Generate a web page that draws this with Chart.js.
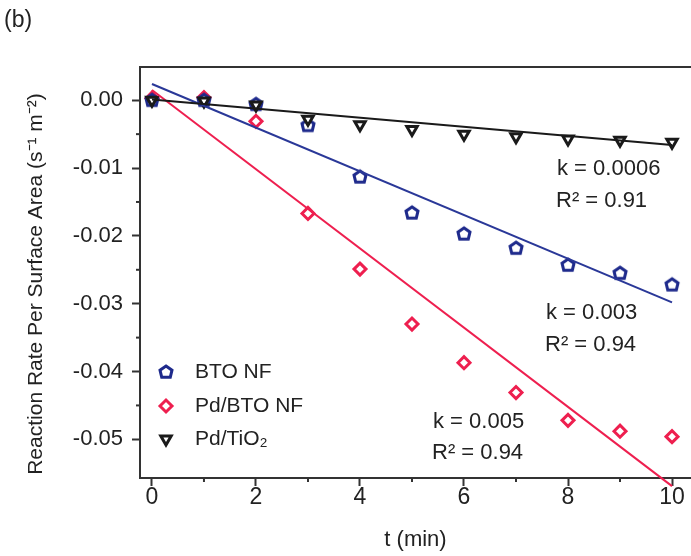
<!DOCTYPE html>
<html>
<head>
<meta charset="utf-8">
<script src="https://cdn.jsdelivr.net/npm/chart.js@4.4.0/dist/chart.umd.min.js"></script>
<style>
  html, body { margin: 0; padding: 0; background: #fff; }
  #wrap { width: 691px; height: 556px; position: relative; }
</style>
</head>
<body>
<div id="wrap"><canvas id="chart"></canvas></div>
<script>
const times = [0, 1, 2, 3, 4, 5, 6, 7, 8, 9, 10];
const btoNF   = [0.0000, 0.0000, -0.0006, -0.0037, -0.0113, -0.0166, -0.0197, -0.0218, -0.0243, -0.0255, -0.0272];
const pdBtoNF = [0.0003, 0.0004, -0.0031, -0.0167, -0.0249, -0.0330, -0.0387, -0.0431, -0.0472, -0.0488, -0.0496];
const pdTiO2  = [0.0000, -0.0001, -0.0007, -0.0028, -0.0036, -0.0043, -0.0050, -0.0054, -0.0057, -0.0059, -0.0062];

// Linear fits (end points)
const fitT = [0, 10];
const btoFit   = [0.0024, -0.0298];
const pdBtoFit = [0.0015, -0.0569];
const tio2Fit  = [0.0001, -0.0066];

const seriesNames = ['BTO NF', 'Pd/BTO NF', 'Pd/TiO₂'];
const fitLabels = [
  ['k = 0.0006', 'R² = 0.91'],
  ['k = 0.003', 'R² = 0.94'],
  ['k = 0.005', 'R² = 0.94']
];
const xTicks = [0, 2, 4, 6, 8, 10];
const xMinor = [1, 3, 5, 7, 9];
const yTicks = [0, -0.01, -0.02, -0.03, -0.04, -0.05];
const yMinor = [-0.005, -0.015, -0.025, -0.035, -0.045];

const FONT = '"Liberation Sans", Arial, sans-serif';
const BLUE = '#1e2a8c';
const RED = '#ee1f4f';
const BLACK = '#1a1a1a';
const AXIS = '#333';

// pentagon ("house") marker for BTO NF
function houseMarker(color) {
  const c = document.createElement('canvas');
  c.width = 18; c.height = 18;
  const g = c.getContext('2d');
  g.translate(9, 9);
  g.beginPath();
  g.moveTo(0, -6); g.lineTo(6, -1.8); g.lineTo(4.3, 5.2); g.lineTo(-4.3, 5.2); g.lineTo(-6, -1.8);
  g.closePath();
  g.fillStyle = '#fff'; g.fill();
  g.lineWidth = 3; g.strokeStyle = color; g.stroke();
  return c;
}
const houseBlue = houseMarker(BLUE);

const pts = (xs, ys) => xs.map((x, i) => ({ x: x, y: ys[i] }));

const markerStyles = [
  { pointStyle: houseBlue, rotation: 0, color: BLUE },
  { pointStyle: 'rectRot', rotation: 0, color: RED },
  { pointStyle: 'triangle', rotation: 180, color: BLACK }
];

function scatterSet(label, ys, m) {
  return {
    label: label,
    data: pts(times, ys),
    showLine: false,
    pointStyle: m.pointStyle,
    rotation: m.rotation,
    pointRadius: 6,
    borderWidth: 3,
    borderColor: m.color,
    backgroundColor: '#fff'
  };
}
function fitSet(ys, color, clip) {
  return {
    label: 'fit',
    data: pts(fitT, ys),
    showLine: true,
    pointRadius: 0,
    borderWidth: 2,
    borderColor: color,
    fill: false,
    clip: clip
  };
}

// minor ticks, frame top, legend, annotations, titles
const decor = {
  id: 'decor',
  afterDraw(chart) {
    const ctx = chart.ctx;
    const a = chart.chartArea;
    const xs = chart.scales.x, ys = chart.scales.y;
    ctx.save();
    ctx.strokeStyle = AXIS;
    ctx.lineWidth = 2;
    // top frame
    ctx.beginPath();
    ctx.moveTo(a.left, a.top); ctx.lineTo(a.right, a.top);
    ctx.stroke();
    // minor ticks
    xMinor.forEach(v => {
      const px = xs.getPixelForValue(v);
      ctx.beginPath(); ctx.moveTo(px, a.bottom); ctx.lineTo(px, a.bottom + 4); ctx.stroke();
    });
    yMinor.forEach(v => {
      const py = ys.getPixelForValue(v);
      ctx.beginPath(); ctx.moveTo(a.left, py); ctx.lineTo(a.left - 4, py); ctx.stroke();
    });

    ctx.fillStyle = '#222';
    ctx.textBaseline = 'middle';
    ctx.textAlign = 'left';

    // panel label
    ctx.font = '23px ' + FONT;
    ctx.fillText('(b)', 4, 21);

    // y axis title
    ctx.font = '21px ' + FONT;
    ctx.save();
    ctx.translate(36, 284);
    ctx.rotate(-Math.PI / 2);
    ctx.textAlign = 'center';
    ctx.fillText('Reaction Rate Per Surface Area (s⁻¹ m⁻²)', 0, 0);
    ctx.restore();

    // legend
    ctx.font = '21px ' + FONT;
    const legendY = [372, 406, 439];
    markerStyles.forEach((m, i) => {
      ctx.save();
      ctx.strokeStyle = m.color; ctx.fillStyle = '#fff'; ctx.lineWidth = 3;
      Chart.helpers.drawPoint(ctx, { pointStyle: m.pointStyle, rotation: m.rotation, radius: 6, borderWidth: 3 }, 166, legendY[i]);
      ctx.restore();
      ctx.fillText(seriesNames[i], 195, legendY[i]);
    });

    // fit annotations
    ctx.font = '22px ' + FONT;
    const annPos = [[557, 169, 201], [546, 313, 345], [433, 422, 453]];
    fitLabels.forEach((lines, i) => {
      ctx.fillText(lines[0], annPos[i][0], annPos[i][1]);
      ctx.fillText(lines[1], annPos[i][0] - 1, annPos[i][2]);
    });
    ctx.restore();
  }
};

new Chart(document.getElementById('chart'), {
  type: 'scatter',
  data: {
    datasets: [
      fitSet(tio2Fit, BLACK),
      fitSet(btoFit, '#2a3898'),
      fitSet(pdBtoFit, RED, false),
      scatterSet(seriesNames[2], pdTiO2, markerStyles[2]),
      scatterSet(seriesNames[0], btoNF, markerStyles[0]),
      scatterSet(seriesNames[1], pdBtoNF, markerStyles[1])
    ]
  },
  options: {
    responsive: true,
    maintainAspectRatio: false,
    animation: false,
    layout: { autoPadding: false, padding: { top: 67, left: 0, right: 0, bottom: 0 } },
    plugins: { legend: { display: false }, tooltip: { enabled: false } },
    scales: {
      x: {
        type: 'linear',
        min: -0.23,
        max: 10.365,
        afterBuildTicks: s => { s.ticks = xTicks.map(v => ({ value: v })); },
        afterFit: s => { s.height = 78; s.paddingLeft = 0; s.paddingRight = 0; },
        grid: { drawOnChartArea: false, drawTicks: true, tickLength: 8, tickWidth: 2, tickColor: AXIS },
        border: { display: true, color: AXIS, width: 2 },
        ticks: { color: '#222', font: { family: FONT, size: 23 }, padding: -2, maxRotation: 0 },
        title: { display: true, text: 't (min)', color: '#222', font: { family: FONT, size: 22 }, padding: { top: 0, bottom: 3 } }
      },
      y: {
        type: 'linear',
        min: -0.0557,
        max: 0.0049,
        afterBuildTicks: s => { s.ticks = yTicks.map(v => ({ value: v })); },
        afterFit: s => { s.width = 140; s.paddingTop = 0; s.paddingBottom = 0; },
        grid: { drawOnChartArea: false, drawTicks: true, tickLength: 8, tickWidth: 2, tickColor: AXIS },
        border: { display: true, color: AXIS, width: 2 },
        ticks: { color: '#222', font: { family: FONT, size: 22 }, padding: 9, callback: v => v.toFixed(2) }
      }
    }
  },
  plugins: [decor]
});
</script>
</body>
</html>
